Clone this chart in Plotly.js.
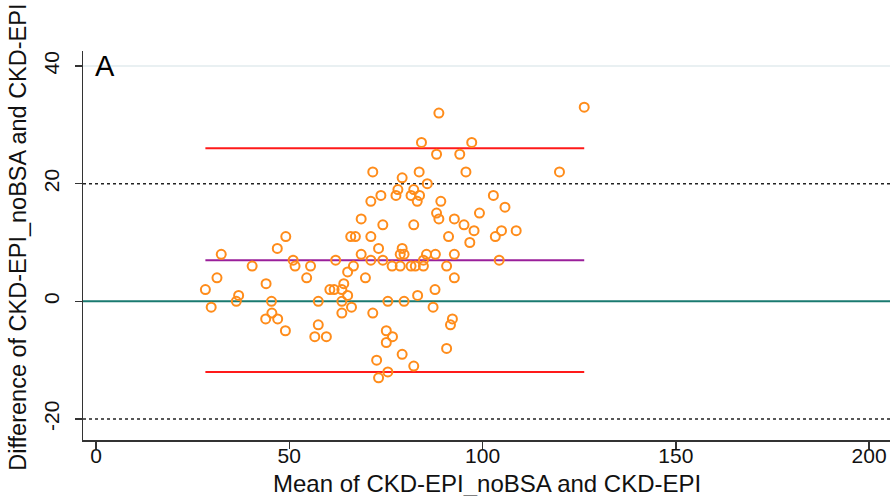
<!DOCTYPE html>
<html>
<head>
<meta charset="utf-8">
<script src="https://cdn.plot.ly/plotly-3.0.1.min.js"></script>
<style>html,body{margin:0;padding:0;background:#fff;}#chart{width:895px;height:496px;}</style>
</head>
<body>
<div id="chart"></div>
<script>
// Mean of the two methods (x) and their difference (y)
const meanVals = [32.4,40.4,31.3,28.3,44.0,36.9,36.3,45.4,29.8,46.9,45.5,43.9,47.0,
  88.7,84.2,88.1,94.1,71.6,83.6,79.2,85.7,78.1,82.2,77.6,81.5,83.7,73.7,71.1,83.1,89.2,
  68.6,88.1,88.7,92.7,74.2,82.2,49.1,65.9,67.1,71.1,91.2,73.1,79.2,68.6,78.7,79.7,85.5,
  87.8,92.7,51.0,62.0,71.1,74.2,84.7,51.5,55.5,66.6,76.6,78.7,81.5,82.6,84.7,90.7,65.1,
  54.5,69.7,92.7,64.1,60.5,61.6,63.6,65.1,83.2,87.7,57.5,63.6,75.5,79.7,66.1,87.2,63.6,
  71.6,92.2,91.7,49.0,57.5,75.1,56.6,59.6,76.7,75.1,90.7,79.2,72.6,82.2,75.5,73.1,
  126.3,97.2,95.7,119.9,102.8,105.8,99.2,95.2,97.8,104.9,108.7,103.3,96.7,104.3];
const diffVals = [8,6,4,2,3,1,0,0,-1,9,-2,-3,-3,
  32,27,25,25,22,22,21,20,19,19,18,18,18,18,17,17,17,
  14,15,14,14,13,13,11,11,11,11,11,9,9,8,8,8,8,
  8,8,7,7,7,7,7,6,6,6,6,6,6,6,6,6,5,
  4,4,4,3,2,2,2,1,1,2,0,0,0,0,-1,-1,-2,
  -2,-3,-4,-5,-4,-5,-6,-6,-6,-7,-8,-9,-10,-11,-12,-13,
  33,27,22,22,18,16,15,13,12,12,12,11,10,7];
// Bland-Altman reference values
const meanDiff = 7;
const upperLoA = 26;
const lowerLoA = -12;
const clinicalLimits = [20, -20];
const zeroLine = 0;
const gridTop = 40;
const xTicks = [0, 50, 100, 150, 200];
const yTicks = [-20, 0, 20, 40];
const panelLabel = 'A';
const xTitle = 'Mean of CKD-EPI_noBSA and CKD-EPI';
const yTitle = 'Difference of CKD-EPI_noBSA and CKD-EPI';

const xMin = Math.min(...meanVals), xMax = Math.max(...meanVals);
const arial = "Arial, 'Liberation Sans', sans-serif";

const hline = (v, color) => ({
  type: 'scatter', mode: 'lines', x: [xMin, xMax], y: [v, v],
  line: {color: color, width: 2}, hoverinfo: 'skip', showlegend: false
});

const traces = [
  hline(upperLoA, '#ff1a1a'),
  hline(lowerLoA, '#ff1a1a'),
  hline(meanDiff, '#9a1f9a'),
  {
    type: 'scatter', mode: 'markers', x: meanVals, y: diffVals, showlegend: false,
    marker: {symbol: 'circle-open', size: 9, color: '#ff8c1a', line: {width: 2, color: '#ff8c1a'}}
  }
];

const shapes = [
  {type: 'line', xref: 'paper', x0: 0, x1: 1, yref: 'y', y0: gridTop, y1: gridTop,
   line: {color: '#e2ebee', width: 1.5}, layer: 'below'},
  {type: 'line', xref: 'paper', x0: 0, x1: 1, yref: 'y', y0: zeroLine, y1: zeroLine,
   line: {color: '#1a7a70', width: 2}, layer: 'below'}
].concat(clinicalLimits.map(v => ({
  type: 'line', xref: 'paper', x0: 0, x1: 1, yref: 'y', y0: v, y1: v,
  line: {color: '#222', width: 1.5, dash: 'dot'}, layer: 'below'
})));

const layout = {
  width: 895, height: 496,
  margin: {l: 83, r: 5, t: 51, b: 56},
  paper_bgcolor: '#fff', plot_bgcolor: '#fff',
  showlegend: false,
  xaxis: {
    range: [-3.36, 205.4], tickvals: xTicks, ticktext: xTicks.map(String),
    showgrid: false, zeroline: false, showline: true, linecolor: '#333', linewidth: 1.5,
    ticks: 'outside', ticklen: 7, tickwidth: 1.5, tickcolor: '#333',
    ticklabelstandoff: -11,
    tickfont: {family: arial, size: 21, color: '#111'}
  },
  yaxis: {
    range: [-23.57, 42.55], tickvals: yTicks, ticktext: yTicks.map(String), tickangle: -90,
    showgrid: false, zeroline: false, showline: true, linecolor: '#333', linewidth: 1.5,
    ticks: 'outside', ticklen: 7, tickwidth: 1.5, tickcolor: '#333',
    ticklabelstandoff: 7,
    tickfont: {family: arial, size: 21, color: '#111'}
  },
  shapes: shapes,
  annotations: [
    {text: panelLabel, xref: 'paper', yref: 'y', x: 0.012, y: gridTop, xanchor: 'left', yanchor: 'middle',
     showarrow: false, font: {family: arial, size: 29, color: '#000'}},
    {text: xTitle, xref: 'paper', yref: 'paper', x: 0.5, y: 0, yshift: -43, xanchor: 'center', yanchor: 'middle',
     showarrow: false, font: {family: arial, size: 24, color: '#111'}},
    {text: yTitle, xref: 'paper', yref: 'paper', x: 0, xshift: -65, y: 0.52, textangle: -90,
     xanchor: 'center', yanchor: 'middle', showarrow: false, font: {family: arial, size: 23.5, color: '#111'}}
  ]
};

Plotly.newPlot('chart', traces, layout, {displayModeBar: false, staticPlot: true});
</script>
</body>
</html>
